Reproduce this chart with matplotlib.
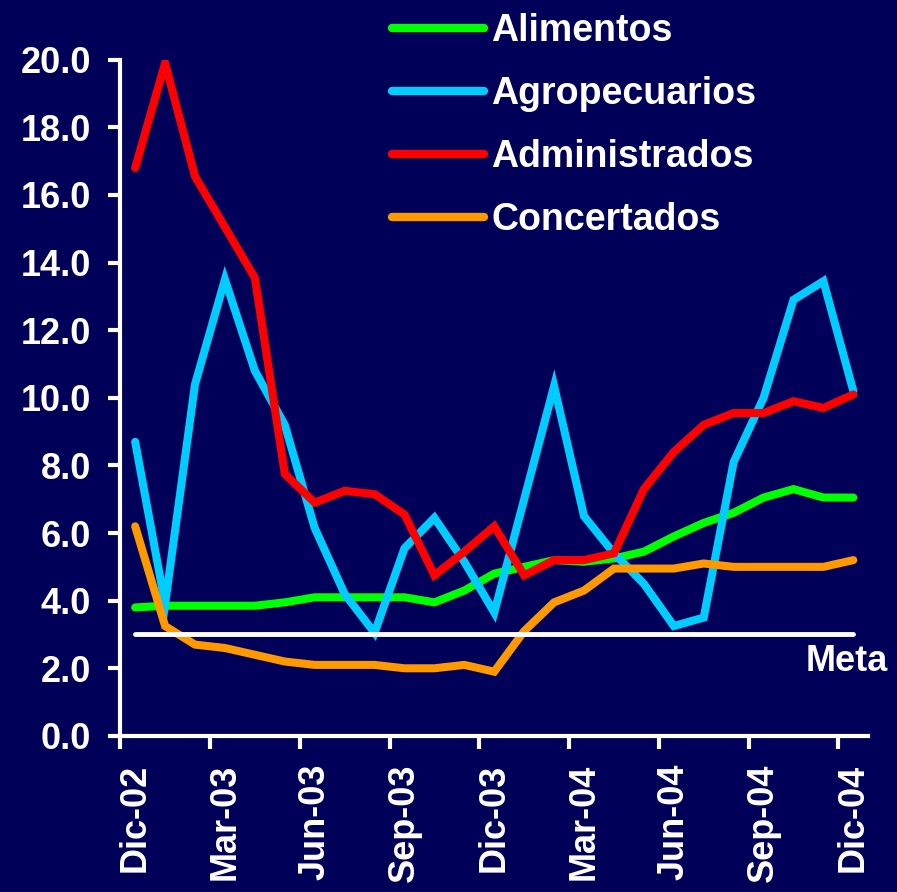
import matplotlib
matplotlib.use("Agg")
import matplotlib.pyplot as plt
import numpy as np

plt.rcParams['font.family'] = ['Liberation Sans', 'DejaVu Sans']
plt.rcParams['font.weight'] = 'bold'

# monthly data, Dic-02 .. Dic-04
meses = ["Dic-02", "Ene-03", "Feb-03", "Mar-03", "Abr-03", "May-03", "Jun-03",
         "Jul-03", "Ago-03", "Sep-03", "Oct-03", "Nov-03", "Dic-03",
         "Ene-04", "Feb-04", "Mar-04", "Abr-04", "May-04", "Jun-04",
         "Jul-04", "Ago-04", "Sep-04", "Oct-04", "Nov-04", "Dic-04"]

alimentos = [3.8, 3.85, 3.85, 3.85, 3.85, 3.95, 4.1, 4.1, 4.1, 4.1, 3.95, 4.3, 4.8,
             5.0, 5.2, 5.15, 5.25, 5.45, 5.9, 6.3, 6.6, 7.05, 7.3, 7.05, 7.05]
agropecuarios = [8.7, 3.9, 10.4, 13.5, 10.8, 9.2, 6.15, 4.2, 3.05, 5.55, 6.45, 5.15, 3.65,
                 7.0, 10.35, 6.5, 5.4, 4.5, 3.25, 3.5, 8.1, 10.0, 12.9, 13.45, 10.2]
administrados = [16.8, 19.9, 16.55, 15.05, 13.55, 7.75, 6.9, 7.25, 7.15, 6.55, 4.75, 5.45, 6.2,
                 4.75, 5.2, 5.2, 5.4, 7.3, 8.4, 9.2, 9.55, 9.55, 9.9, 9.7, 10.1]
concertados = [6.2, 3.25, 2.7, 2.6, 2.4, 2.2, 2.1, 2.1, 2.1, 2.0, 2.0, 2.1, 1.9,
               3.1, 3.95, 4.3, 4.95, 4.95, 4.95, 5.1, 5.0, 5.0, 5.0, 5.0, 5.2]
meta = 3.0

series = [("Alimentos", alimentos, "#00FF00"),
          ("Agropecuarios", agropecuarios, "#00CCFF"),
          ("Administrados", administrados, "#FF0000"),
          ("Concertados", concertados, "#FF9900")]

bg = "#000058"
fig = plt.figure(figsize=(8.97, 8.92), dpi=100, facecolor=bg)
ax = fig.add_axes([0.134, 0.175, 0.834, 0.758], facecolor=bg)

x = np.arange(len(meses))
for name, vals, col in series:
    ax.plot(x, vals, color=col, lw=5.8, label=name, solid_capstyle='round',
            solid_joinstyle='miter')
ax.plot([x[0], x[-1]], [meta, meta], color='white', lw=3.5, solid_capstyle='round')
ax.text(22.4, 2.2, "Meta", color='white', fontsize=26, fontweight='bold',
        ha='left', va='center')

ax.set_xlim(-0.5, len(meses) - 0.5)
ax.set_ylim(0, 20)
ax.set_yticks(np.arange(0, 21, 2))
ax.set_yticklabels([f"{v:.1f}" for v in np.arange(0, 21, 2)])

# ticks between categories, labels every 3 months
ax.set_xticks(np.arange(-0.5, len(meses) - 1, 3))
ax.set_xticklabels([])
ax.set_xticks(x[::3], minor=True)
ax.set_xticklabels([meses[i] for i in x[::3]], minor=True, rotation=90)

ax.tick_params(axis='both', which='major', colors='white', width=3, length=9,
               labelsize=26, pad=12)
ax.tick_params(axis='x', which='minor', colors='white', length=0, pad=20,
               labelsize=26)
for lab in ax.get_xticklabels(minor=True) + ax.get_yticklabels():
    lab.set_fontweight('bold')

for s in ['top', 'right']:
    ax.spines[s].set_visible(False)
for s in ['left', 'bottom']:
    ax.spines[s].set_color('white')
    ax.spines[s].set_linewidth(3)
ax.spines['left'].set_bounds(0, 20)

leg = fig.legend(loc='upper left', bbox_to_anchor=(392 / 897, 0.985), frameon=False,
                 fontsize=27, labelspacing=0.72, handlelength=2.45,
                 handletextpad=0.2, borderpad=0, borderaxespad=0)
for t in leg.get_texts():
    t.set_color('white')
    t.set_fontweight('bold')
for h in leg.get_lines():
    h.set_linewidth(6)

fig.savefig("out.png", dpi=100, facecolor=bg)
